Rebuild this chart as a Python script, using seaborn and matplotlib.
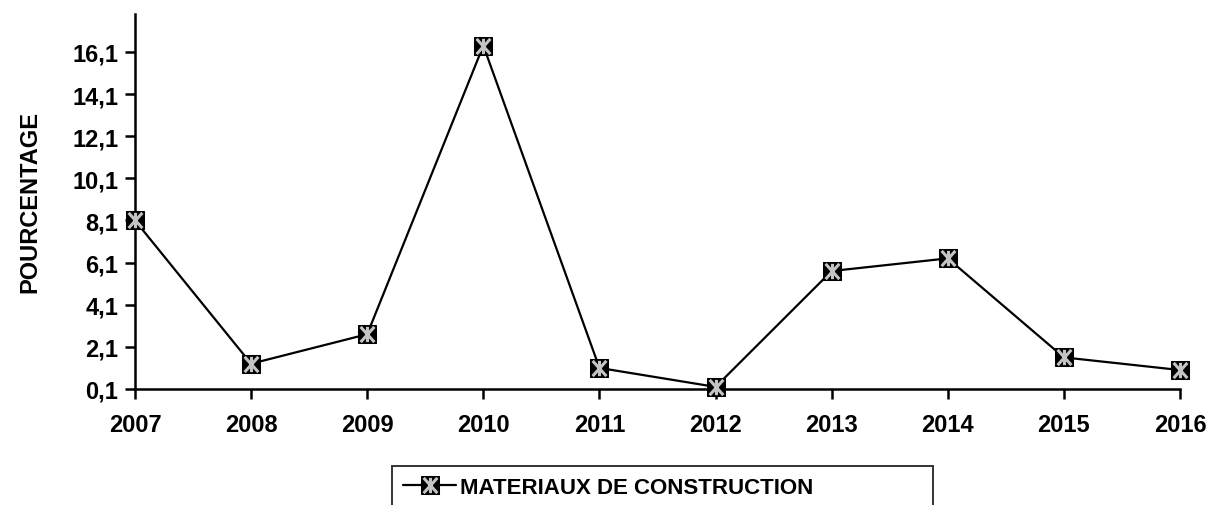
import numpy as np
import pandas as pd
import matplotlib
matplotlib.use("Agg")
import matplotlib.pyplot as plt
import seaborn as sns
from matplotlib.path import Path
from matplotlib.legend_handler import HandlerTuple

years = [2007, 2008, 2009, 2010, 2011, 2012, 2013, 2014, 2015, 2016]
values = [8.1, 1.3, 2.7, 16.4, 1.1, 0.2, 5.7, 6.3, 1.6, 1.0]
series_name = "MATERIAUX DE CONSTRUCTION"
ytick_values = [0.1, 2.1, 4.1, 6.1, 8.1, 10.1, 12.1, 14.1, 16.1]
ytick_labels = ["0,1", "2,1", "4,1", "6,1", "8,1", "10,1", "12,1", "14,1", "16,1"]
ylabel = "POURCENTAGE"

sns.set_theme(style="white")
plt.rcParams['font.family'] = ['Liberation Sans', 'DejaVu Sans']
plt.rcParams['font.weight'] = 'bold'
plt.rcParams['text.color'] = 'black'
plt.rcParams['axes.labelcolor'] = 'black'
plt.rcParams['xtick.color'] = 'black'
plt.rcParams['ytick.color'] = 'black'

FS = 17

df = pd.DataFrame({"year": years, "value": values, "serie": series_name})

fig = plt.figure(figsize=(12.09, 5.06), dpi=100)
ax = fig.add_axes([135/1209, 1 - 390/506, (1180-135)/1209, (390-15)/506])

star = Path([(0, -1), (0, 1), (-0.9, -1), (0.9, 1), (-0.9, 1), (0.9, -1)],
            [Path.MOVETO, Path.LINETO, Path.MOVETO, Path.LINETO, Path.MOVETO, Path.LINETO])

sns.lineplot(data=df, x="year", y="value", ax=ax, color="black", linewidth=1.6,
             marker="s", markersize=13, markeredgecolor="black", markerfacecolor="black",
             legend=False, clip_on=False, zorder=5)
sns.lineplot(data=df, x="year", y="value", ax=ax, color="#c0c0c0", linestyle="none",
             marker=star, markersize=11, markeredgewidth=2.2, markeredgecolor="#c4c4c4",
             legend=False, clip_on=False, zorder=6)

ax.set_xlim(2007, 2016)
ax.set_ylim(0.1, 17.9)
ax.set_xticks(years)
ax.set_xticklabels([str(y) for y in years], fontsize=FS, fontweight='bold')
ax.set_yticks(ytick_values)
ax.set_yticklabels(ytick_labels, fontsize=FS, fontweight='bold')
ax.set_xlabel("")
ax.set_ylabel(ylabel, fontsize=FS, fontweight='bold', labelpad=22)

for s in ["top", "right"]:
    ax.spines[s].set_visible(False)
for s in ["left", "bottom"]:
    ax.spines[s].set_color("black")
    ax.spines[s].set_linewidth(1.8)
ax.tick_params(axis='both', direction='out', length=7, width=1.8, color='black',
               bottom=True, left=True)
ax.tick_params(axis='x', pad=10)
ax.tick_params(axis='y', pad=5)
ax.grid(False)

h1 = ax.lines[0]
h2 = ax.lines[1]
leg = fig.legend([(h1, h2)], [series_name], handler_map={tuple: HandlerTuple(ndivide=1, pad=0)},
                 loc='upper left', bbox_to_anchor=(392/1209, 1 - 467/506, (933-392)/1209, 0),
                 mode='expand', frameon=True, fancybox=False, handlelength=2.4,
                 handletextpad=0.15, borderpad=0.5, borderaxespad=0,
                 prop={'size': 16, 'weight': 'bold'})
leg.get_frame().set_edgecolor("black")
leg.get_frame().set_linewidth(1.4)

fig.savefig("out.png", dpi=100)
